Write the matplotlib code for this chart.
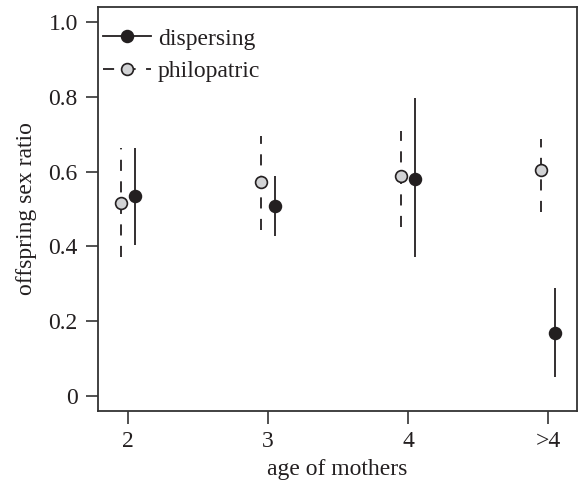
import matplotlib
matplotlib.use("Agg")
import matplotlib.pyplot as plt
from matplotlib.lines import Line2D
import numpy as np

plt.rcParams['font.family'] = ['Liberation Serif', 'DejaVu Serif']
plt.rcParams['lines.scale_dashes'] = False

# data
age_labels = ['2', '3', '4', '>4']
disp_mean = [0.536, 0.509, 0.581, 0.168]
disp_lo = [0.405, 0.429, 0.371, 0.051]
disp_hi = [0.664, 0.589, 0.795, 0.288]
phil_mean = [0.517, 0.573, 0.589, 0.605]
phil_lo = [0.371, 0.445, 0.453, 0.493]
phil_hi = [0.664, 0.696, 0.707, 0.688]
yticks = [0, 0.2, 0.4, 0.6, 0.8, 1.0]
ytick_labels = ['0', '0.2', '0.4', '0.6', '0.8', '1.0']

ink = '#231f20'
gray = '#d2d3d5'
fs = 17
dash = (0, (8, 7.5))

fig = plt.figure(figsize=(5.82, 4.84), dpi=100)
ax = fig.add_axes([98/582, 1 - 411/484, 479/582, 404/484])

x = np.arange(1, len(age_labels) + 1)
off = 0.05
xp = x - off
xd = x + off

ax.vlines(xp, phil_lo, phil_hi, colors=ink, linewidth=1.3, linestyles=[dash], zorder=2)
ax.vlines(xd, disp_lo, disp_hi, colors=ink, linewidth=1.3, zorder=2)
ax.plot(xp, phil_mean, linestyle='none', marker='o', markersize=8.5,
        markerfacecolor=gray, markeredgecolor=ink, markeredgewidth=1.2, zorder=3)
ax.plot(xd, disp_mean, linestyle='none', marker='o', markersize=8.5,
        markerfacecolor=ink, markeredgecolor=ink, markeredgewidth=1.2, zorder=3)

ax.set_xlim(0.786, 4.207)
ax.set_ylim(-0.039, 1.039)
ax.set_xticks(x)
ax.set_xticklabels(age_labels)
ax.set_yticks(yticks)
ax.set_yticklabels(ytick_labels)

for s in ax.spines.values():
    s.set_linewidth(1.3)
    s.set_color('#333333')
ax.tick_params(axis='both', direction='out', length=9, width=1.2, color='#333333',
               labelsize=fs, labelcolor=ink, pad=5.5)
ax.set_xlabel('age of mothers', fontsize=fs, color=ink, labelpad=5)
ax.set_ylabel('offspring sex ratio', fontsize=fs, color=ink, labelpad=8)

h_d = Line2D([], [], color=ink, linewidth=1.3, linestyle='-', marker='o', markersize=8.5,
             markerfacecolor=ink, markeredgecolor=ink, markeredgewidth=1.2)
h_p = Line2D([], [], color=ink, linewidth=1.3, linestyle=dash, marker='o', markersize=8.5,
             markerfacecolor=gray, markeredgecolor=ink, markeredgewidth=1.2)
leg = ax.legend([h_d, h_p], ['dispersing', 'philopatric'], loc='upper left',
                bbox_to_anchor=(0.0104, 0.948), borderaxespad=0, borderpad=0,
                frameon=False, fontsize=fs, handlelength=2.03, handletextpad=0.3,
                labelspacing=0.46, numpoints=1)
for t in leg.get_texts():
    t.set_color(ink)

fig.savefig('out.png', dpi=100)
